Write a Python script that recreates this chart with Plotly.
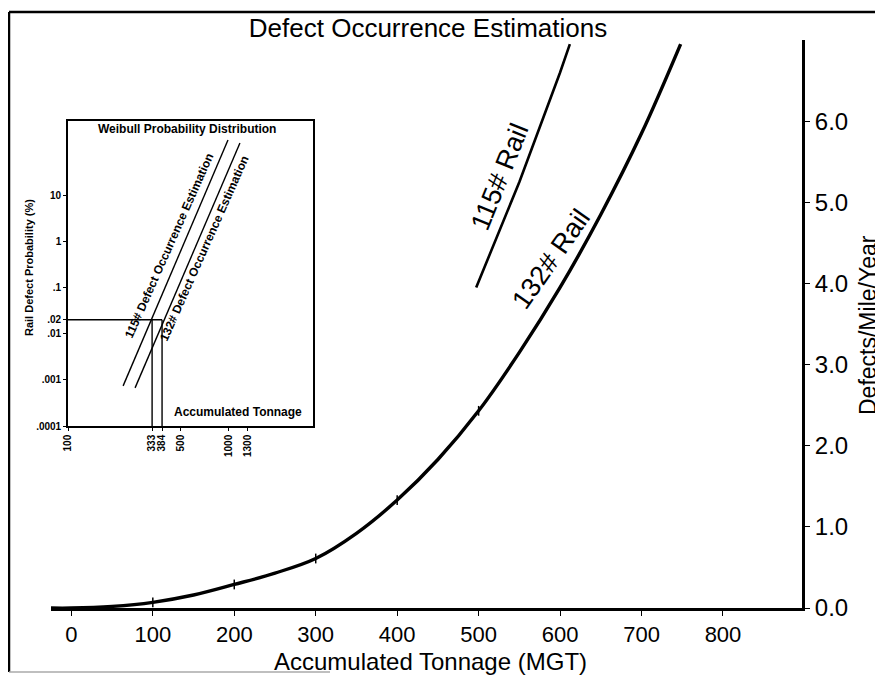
import plotly.graph_objects as go

# ---------------- data ----------------
# Main chart: defects / mile / year vs accumulated tonnage (MGT)
mgt_132 = [-25, 0, 50, 100, 150, 200, 250, 300, 350, 400, 450, 500, 550, 600, 650, 700, 748]
def_132 = [0.0, 0.0, 0.02, 0.07, 0.16, 0.29, 0.43, 0.61, 0.92, 1.33, 1.83, 2.43, 3.15, 3.95, 4.85, 5.85, 6.95]
mgt_115 = [497, 550, 600, 612]
def_115 = [3.95, 5.25, 6.6, 6.95]
marker_mgt = [100, 200, 300, 400, 500]
marker_def = [0.07, 0.29, 0.61, 1.33, 2.43]

x_ticks = [0, 100, 200, 300, 400, 500, 600, 700, 800]
y_ticks = [0.0, 1.0, 2.0, 3.0, 4.0, 5.0, 6.0]
y_tick_labels = ["0.0", "1.0", "2.0", "3.0", "4.0", "5.0", "6.0"]

# Inset: Weibull probability distribution
w115_x = [220, 986]
w115_p = [0.00074, 157]
w132_x = [261, 1170]
w132_p = [0.00067, 135]
p_level = 0.02
t_115 = 333
t_132 = 384
inset_x_ticks = [100, 333, 384, 500, 1000, 1300]
inset_x_labels = ["100", "333", "384", "500", "1000", "1300"]
inset_y_ticks = [0.0001, 0.001, 0.01, 0.02, 0.1, 1, 10]
inset_y_labels = [".0001", ".001", ".01", ".02", ".1", "1", "10"]

FONT = "Liberation Sans, Arial, sans-serif"

# page offset (body margin of the html page)
OFF = 8
W, H = 883 - OFF, 677 - OFF
L, T = 51 - OFF, 40 - OFF
R = W - (802 - OFF)
B = H - (608 - OFF)
pw, ph = W - L - R, H - T - B

def px(x):
    return (x - OFF - L) / pw

def py(y):
    return (H - B - (y - OFF)) / ph

fig = go.Figure()

# main curves
fig.add_trace(go.Scatter(x=mgt_132, y=def_132, mode="lines",
                         line=dict(color="black", width=3.4, shape="spline"),
                         showlegend=False, hoverinfo="skip"))
fig.add_trace(go.Scatter(x=marker_mgt, y=marker_def, mode="markers",
                         marker=dict(symbol="line-ns", size=7, line=dict(color="black", width=1.5)),
                         showlegend=False, hoverinfo="skip"))
fig.add_trace(go.Scatter(x=mgt_115, y=def_115, mode="lines",
                         line=dict(color="black", width=2.6),
                         showlegend=False, hoverinfo="skip"))

# inset traces
inset_line = dict(color="black", width=1.4)
fig.add_trace(go.Scatter(x=w115_x, y=w115_p, mode="lines", xaxis="x2", yaxis="y2",
                         line=inset_line, showlegend=False, hoverinfo="skip"))
fig.add_trace(go.Scatter(x=w132_x, y=w132_p, mode="lines", xaxis="x2", yaxis="y2",
                         line=inset_line, showlegend=False, hoverinfo="skip"))
fig.add_trace(go.Scatter(x=[100, t_132], y=[p_level, p_level], mode="lines", xaxis="x2", yaxis="y2",
                         line=inset_line, showlegend=False, hoverinfo="skip"))
fig.add_trace(go.Scatter(x=[t_115, t_115], y=[p_level, 0.0001], mode="lines", xaxis="x2", yaxis="y2",
                         line=inset_line, showlegend=False, hoverinfo="skip"))
fig.add_trace(go.Scatter(x=[t_132, t_132], y=[p_level, 0.0001], mode="lines", xaxis="x2", yaxis="y2",
                         line=inset_line, showlegend=False, hoverinfo="skip"))

fig.update_layout(
    width=W, height=H,
    margin=dict(l=L, r=R, t=T, b=B, pad=0),
    paper_bgcolor="white", plot_bgcolor="white",
    font=dict(family=FONT, color="black"),
    title=dict(text="Defect Occurrence Estimations", x=px(428), xref="paper", xanchor="center",
               y=1 - (28 - OFF) / H, yanchor="middle", font=dict(size=26, family=FONT)),
    xaxis=dict(range=[-25, 897], tickvals=x_ticks, ticks="outside", ticklen=5, tickwidth=1.2,
               tickcolor="black", showline=True, linecolor="black", linewidth=3,
               showgrid=False, zeroline=False, tickfont=dict(size=22, family=FONT),
               anchor="y", domain=[0, 1]),
    yaxis=dict(range=[0, 7.0], tickvals=y_ticks, ticktext=y_tick_labels, side="right",
               ticks="outside", ticklen=5, tickwidth=1.2, tickcolor="black",
               showline=True, linecolor="black", linewidth=3, showgrid=False, zeroline=False,
               tickfont=dict(size=24, family=FONT), anchor="x", domain=[0, 1]),
    xaxis2=dict(type="log", range=[2, 3.522], domain=[px(68), px(313)], anchor="y2",
                tickvals=inset_x_ticks, ticktext=["<b>%s</b>" % t for t in inset_x_labels],
                tickangle=-90, ticks="outside", ticklen=3, tickcolor="black", showline=True,
                mirror=True, linecolor="black", linewidth=1.6, showgrid=False, zeroline=False,
                tickfont=dict(size=10, family=FONT)),
    yaxis2=dict(type="log", range=[-4, 2.609], domain=[py(426), py(121)], anchor="x2",
                tickvals=inset_y_ticks, ticktext=["<b>%s</b>" % t for t in inset_y_labels],
                ticks="outside", ticklen=3, tickcolor="black", showline=True, mirror=True,
                linecolor="black", linewidth=1.6, showgrid=False, zeroline=False,
                tickfont=dict(size=10, family=FONT)),
)

annotations = [
    dict(text="Accumulated Tonnage (MGT)", xref="paper", yref="paper", x=px(430), y=py(661),
         showarrow=False, font=dict(size=24, family=FONT), xanchor="center", yanchor="middle"),
    dict(text="Defects/Mile/Year", xref="paper", yref="paper", x=px(868), y=py(325),
         showarrow=False, textangle=-90, font=dict(size=23, family=FONT),
         xanchor="center", yanchor="middle"),
    dict(text="115# Rail", xref="x", yref="y", x=526, y=5.31, showarrow=False, textangle=-68,
         font=dict(size=27, family=FONT), xanchor="center", yanchor="middle"),
    dict(text="132# Rail", xref="x", yref="y", x=589, y=4.3, showarrow=False, textangle=-55,
         font=dict(size=27, family=FONT), xanchor="center", yanchor="middle"),
    # inset texts
    dict(text="<b>Weibull Probability Distribution</b>", xref="paper", yref="paper",
         x=px(187), y=py(129), showarrow=False, font=dict(size=12, family=FONT),
         xanchor="center", yanchor="middle"),
    dict(text="<b>Accumulated Tonnage</b>", xref="paper", yref="paper",
         x=px(238), y=py(412), showarrow=False, font=dict(size=12, family=FONT),
         xanchor="center", yanchor="middle"),
    dict(text="<b>Rail Defect Probability (%)</b>", xref="paper", yref="paper",
         x=px(29), y=py(268), showarrow=False, textangle=-90, font=dict(size=11, family=FONT),
         xanchor="center", yanchor="middle"),
    dict(text="<b>115# Defect Occurrence Estimation</b>", xref="paper", yref="paper",
         x=px(169), y=py(246), showarrow=False, textangle=-66, font=dict(size=12, family=FONT),
         xanchor="center", yanchor="middle"),
    dict(text="<b>132# Defect Occurrence Estimation</b>", xref="paper", yref="paper",
         x=px(204), y=py(249), showarrow=False, textangle=-66, font=dict(size=12, family=FONT),
         xanchor="center", yanchor="middle"),
]
fig.update_layout(annotations=annotations)

# page frame
shapes = [
    dict(type="line", xref="paper", yref="paper", x0=px(9), y0=py(12), x1=px(890), y1=py(12),
         line=dict(color="black", width=2.5)),
    dict(type="line", xref="paper", yref="paper", x0=px(9), y0=py(12), x1=px(9), y1=py(672),
         line=dict(color="black", width=2.5)),
    dict(type="line", xref="paper", yref="paper", x0=px(9), y0=py(672), x1=px(330), y1=py(672),
         line=dict(color="#aaaaaa", width=1.5)),
]
fig.update_layout(shapes=shapes)

fig.write_html("out.html")
